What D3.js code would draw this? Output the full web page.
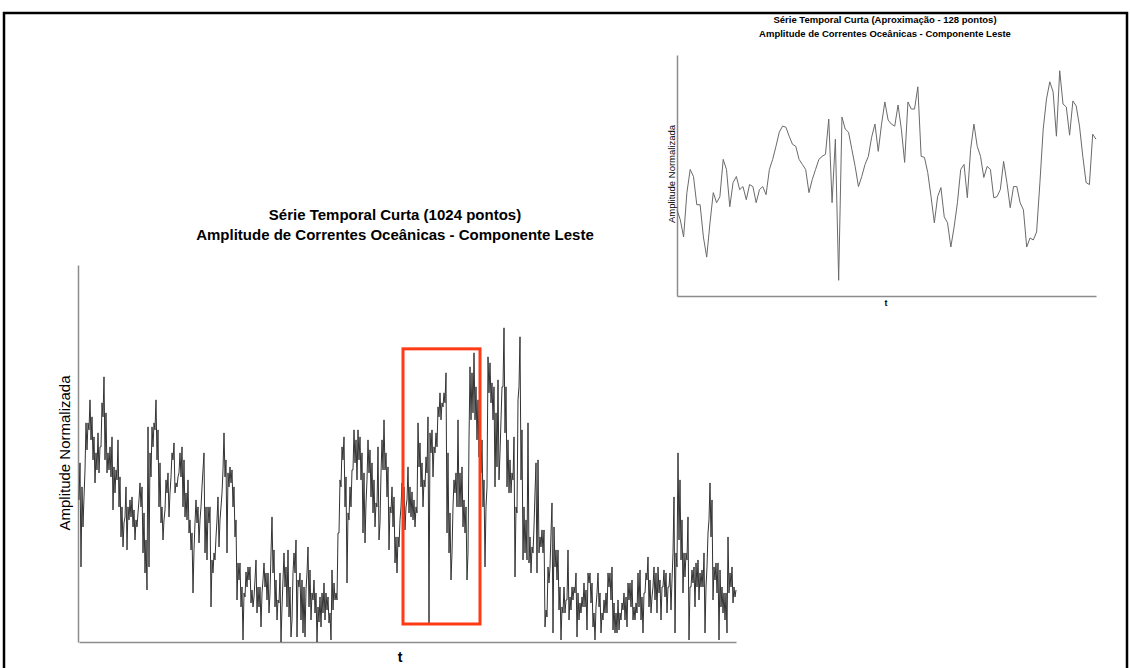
<!DOCTYPE html>
<html>
<head>
    <meta charset="utf-8">
    <title>Série Temporal Curta</title>
    <script src="https://cdn.jsdelivr.net/npm/d3@7"></script>
    <style>
    body { margin: 0; background: #fff; }
    svg text { font-family: "Liberation Sans", Arial, sans-serif; fill: #000; }
    .axis path { stroke: #8c8c8c; stroke-width: 1.5; }
    .serie { fill: none; stroke: #333; stroke-width: 1; }
    .aprox { fill: none; stroke: #6a6a6a; stroke-width: 1; }
    </style>
</head>
<body>
<div id="canvas"></div>

<script>
    // amplitude (componente leste): pares minimo/maximo por coluna
    var amplitude = [
        142,179,75,155,115,145,172,219,192,219,212,242,202,225,182,205,159,189,172,209,
        169,195,195,239,225,265,182,229,169,189,172,195,165,205,132,175,149,172,162,202,
        135,165,105,135,95,119,125,155,92,135,122,142,125,145,115,132,102,122,115,129,
        142,159,135,155,89,129,69,102,52,215,75,189,165,215,195,219,212,242,182,212,
        135,179,119,135,102,122,132,162,149,169,125,149,165,189,182,199,149,159,155,165,
        169,189,165,195,135,182,125,149,122,162,109,122,92,109,49,92,119,142,119,135,
        99,122,135,155,172,189,89,135,82,135,119,135,35,82,69,89,82,105,122,145,
        95,122,135,149,172,209,165,182,89,169,155,175,159,172,135,155,105,122,42,79,
        62,79,35,55,2,49,45,70,55,75,62,75,39,52,35,45,62,82,29,55,
        35,55,15,49,62,79,55,69,42,69,29,49,89,125,69,92,35,62,22,42,
        39,69,0,35,62,89,55,75,35,92,25,55,5,22,69,89,69,102,5,62,
        55,69,22,62,9,55,5,52,69,95,35,72,22,49,42,62,29,49,0,35,
        20,45,15,49,29,59,22,49,32,45,19,29,2,72,32,59,42,49,42,109,
        109,162,155,195,182,205,135,165,59,129,122,155,135,172,172,212,179,202,162,212,
        182,205,162,189,109,169,99,139,162,202,169,192,145,179,129,162,115,139,135,195,
        102,119,169,202,172,222,172,189,145,175,92,135,129,155,115,145,79,105,69,105,
        95,122,135,159,122,155,112,135,142,175,129,155,125,150,122,142,115,135,129,219,
        175,199,155,179,135,162,155,185,169,225,19,209,189,212,165,195,189,209,195,235,
        225,249,222,239,235,249,239,269,109,189,89,129,62,89,135,162,149,169,135,222,
        135,169,135,175,115,142,109,135,62,89,202,275,222,269,229,289,222,255,202,242,
        185,215,169,202,135,162,75,135,155,285,249,279,239,259,222,255,155,229,175,262,
        162,189,222,255,255,314,209,255,155,202,149,182,149,169,162,205,65,135,129,242,
        255,305,162,212,82,135,89,122,82,219,79,105,69,95,89,115,149,179,69,182,
        89,105,95,112,89,112,15,32,25,75,59,75,109,139,9,115,75,92,62,92,
        32,55,2,35,29,55,29,42,42,92,22,45,32,55,42,55,49,69,5,49,
        22,39,29,45,35,59,35,52,12,69,59,69,39,59,15,29,2,35,49,69,
        35,49,9,29,22,42,29,49,29,69,55,69,42,75,12,39,9,29,9,42,
        12,29,22,39,32,49,22,45,15,59,42,59,35,62,22,35,22,39,29,69,
        35,72,22,45,9,49,49,69,62,85,35,62,29,45,55,75,42,69,29,75,
        49,62,22,55,55,72,45,69,29,55,55,69,32,62,89,145,9,89,75,189,
        102,162,82,122,49,89,65,89,82,125,2,55,55,72,59,75,35,79,55,82,
        42,69,55,72,55,89,9,55,75,109,122,159,105,142,42,75,62,79,49,79,
        2,72,35,55,29,49,22,49,9,105,49,69,55,75,39,55,45,52
    ];

    // aproximacao com 128 pontos
    var amplitudeAprox = [
        86,76,59,103,126,119,91,91,59,39,
        73,103,93,99,136,126,89,113,119,106,
        109,96,111,109,93,106,109,101,126,136,
        149,163,169,168,159,151,149,136,131,126,
        103,116,126,136,139,141,176,93,156,16,
        178,166,163,146,129,109,119,131,139,158,
        171,144,171,193,175,171,169,190,166,133,
        193,186,186,208,139,138,123,99,73,99,
        108,79,73,49,69,93,126,131,98,146,
        171,149,139,118,129,126,98,99,106,134,
        113,88,109,109,93,86,49,58,56,64,
        113,166,196,213,203,159,224,191,188,160,
        194,189,169,139,113,111,161,156
    ];

    // trecho destacado em vermelho (indices da serie e faixa de amplitude)
    var destaqueIndices = [324, 401];
    var destaqueAmplitude = [18, 293];

    var titulo = ["Série Temporal Curta (1024 pontos)", "Amplitude de Correntes Oceânicas - Componente Leste"];
    var tituloAprox = ["Série Temporal Curta (Aproximação - 128 pontos)", "Amplitude de Correntes Oceânicas - Componente Leste"];
    var rotuloX = "t";
    var rotuloY = "Amplitude Normalizada";

    var w = 1130;
    var h = 668;

    var svg = d3.select("#canvas")
        .append("svg")
        .attr("width", w)
        .attr("height", h);

    // moldura
    svg.append("rect")
        .attr("x", 4).attr("y", 13)
        .attr("width", 1123).attr("height", 700)
        .attr("fill", "none").attr("stroke", "#000").attr("stroke-width", 2.5);

    // ---- grafico principal ----
    var m = {left: 78, right: 737, top: 265, bottom: 642};

    var x = d3.scaleLinear()
        .domain([0, amplitude.length - 1])
        .range([m.left + 1, m.right - 1]);
    var y = d3.scaleLinear()
        .domain([0, d3.max(amplitude) * 1.2])
        .range([m.bottom, m.top]);

    svg.append("g").attr("class", "axis")
        .attr("transform", "translate(0," + m.bottom + ")")
        .call(d3.axisBottom(x).tickValues([]).tickSizeOuter(0));
    svg.append("g").attr("class", "axis")
        .attr("transform", "translate(" + m.left + ",0)")
        .call(d3.axisLeft(y).tickValues([]).tickSizeOuter(0));

    svg.append("path")
        .datum(amplitude)
        .attr("class", "serie")
        .attr("d", d3.line()
            .x(function(d, i) { return x(i); })
            .y(function(d) { return y(d); }));

    svg.append("rect")
        .attr("x", x(destaqueIndices[0]))
        .attr("y", y(destaqueAmplitude[1]))
        .attr("width", x(destaqueIndices[1]) - x(destaqueIndices[0]))
        .attr("height", y(destaqueAmplitude[0]) - y(destaqueAmplitude[1]))
        .attr("fill", "none")
        .attr("stroke", "#ff3a14")
        .attr("stroke-width", 3);

    svg.selectAll("text.titulo")
        .data(titulo)
        .enter()
        .append("text")
        .attr("class", "titulo")
        .attr("x", 395)
        .attr("y", function(d, i) { return 220 + i * 20; })
        .attr("text-anchor", "middle")
        .style("font-size", "15px")
        .style("font-weight", "bold")
        .text(function(d) { return d; });

    svg.append("text")
        .attr("x", 400).attr("y", 662)
        .attr("text-anchor", "middle")
        .style("font-size", "14px").style("font-weight", "bold")
        .text(rotuloX);

    svg.append("text")
        .attr("transform", "translate(70,453) rotate(-90)")
        .attr("text-anchor", "middle")
        .style("font-size", "15px")
        .text(rotuloY);

    // ---- grafico da aproximacao (canto superior direito) ----
    var a = {left: 677, right: 1096, top: 55, bottom: 296};

    var xa = d3.scaleLinear()
        .domain([0, amplitudeAprox.length - 1])
        .range([a.left, a.right]);
    var ext = d3.extent(amplitudeAprox);
    var pad = (ext[1] - ext[0]) * 0.075;
    var ya = d3.scaleLinear()
        .domain([ext[0] - pad, ext[1] + pad])
        .range([a.bottom, a.top]);

    svg.append("g").attr("class", "axis")
        .attr("transform", "translate(0," + a.bottom + ")")
        .call(d3.axisBottom(xa).tickValues([]).tickSizeOuter(0));
    svg.append("g").attr("class", "axis")
        .attr("transform", "translate(" + a.left + ",0)")
        .call(d3.axisLeft(ya).tickValues([]).tickSizeOuter(0));

    svg.append("path")
        .datum(amplitudeAprox)
        .attr("class", "aprox")
        .attr("d", d3.line()
            .x(function(d, i) { return xa(i); })
            .y(function(d) { return ya(d); }));

    svg.selectAll("text.tituloAprox")
        .data(tituloAprox)
        .enter()
        .append("text")
        .attr("class", "tituloAprox")
        .attr("x", 885)
        .attr("y", function(d, i) { return 23 + i * 14; })
        .attr("text-anchor", "middle")
        .style("font-size", "9.5px")
        .style("font-weight", "bold")
        .text(function(d) { return d; });

    svg.append("text")
        .attr("x", 886).attr("y", 306)
        .attr("text-anchor", "middle")
        .style("font-size", "9px").style("font-weight", "bold")
        .text(rotuloX);

    svg.append("text")
        .attr("transform", "translate(675,174) rotate(-90)")
        .attr("text-anchor", "middle")
        .style("font-size", "9.5px")
        .text(rotuloY);
</script>
</body>
</html>
